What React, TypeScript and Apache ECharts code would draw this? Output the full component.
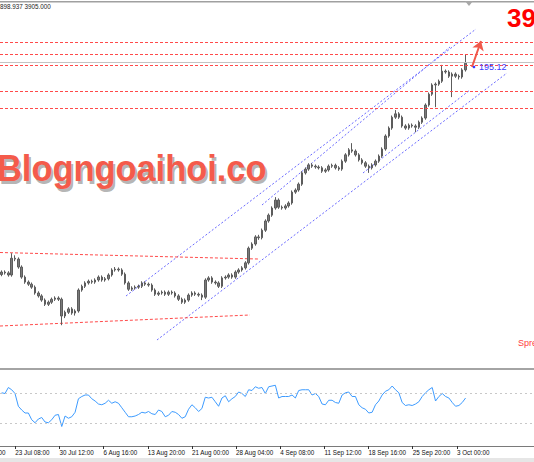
import React, { useEffect, useRef } from "react";
import * as echarts from "echarts";

// ---------- data ----------
const SLOTS = 160; // bar slots across the visible width
const firstOpen = 3372;
const closes = [
  3378, 3376, 3371, 3411, 3409, 3390, 3366, 3354, 3349, 3342,
  3328, 3321, 3311, 3301, 3306, 3313, 3316, 3313, 3273, 3282,
  3290, 3280, 3285, 3335, 3344, 3352, 3356, 3354, 3359, 3366,
  3359, 3362, 3371, 3383, 3385, 3383, 3373, 3352, 3337, 3340,
  3342, 3344, 3352, 3349, 3347, 3335, 3325, 3328, 3330, 3325,
  3330, 3328, 3321, 3313, 3306, 3311, 3323, 3328, 3325, 3323,
  3318, 3359, 3364, 3354, 3352, 3344, 3364, 3366, 3371, 3366,
  3378, 3383, 3388, 3400, 3435, 3445, 3462, 3460, 3478, 3500,
  3514, 3531, 3550, 3533, 3531, 3536, 3543, 3569, 3574, 3588,
  3615, 3624, 3634, 3631, 3629, 3627, 3619, 3622, 3631, 3633,
  3627, 3624, 3643, 3658, 3670, 3667, 3658, 3646, 3639, 3631,
  3627, 3634, 3643, 3655, 3672, 3703, 3722, 3748, 3756, 3748,
  3727, 3722, 3729, 3727, 3724, 3736, 3746, 3777, 3803, 3825,
  3827, 3834, 3858, 3856, 3846, 3851, 3846, 3844, 3861, 3877,
];
const highs = [
  3382, 3382, 3380, 3423, 3418, 3413, 3394, 3370, 3358, 3353,
  3346, 3332, 3325, 3315, 3310, 3317, 3320, 3320, 3317, 3286,
  3294, 3294, 3289, 3339, 3348, 3356, 3360, 3360, 3363, 3370,
  3370, 3366, 3375, 3387, 3390, 3389, 3387, 3377, 3356, 3344,
  3346, 3348, 3356, 3356, 3353, 3351, 3339, 3332, 3334, 3334,
  3334, 3334, 3332, 3325, 3317, 3315, 3327, 3332, 3332, 3329,
  3327, 3363, 3368, 3368, 3358, 3356, 3368, 3370, 3375, 3375,
  3382, 3387, 3392, 3404, 3439, 3449, 3466, 3467, 3482, 3504,
  3518, 3535, 3557, 3554, 3537, 3540, 3547, 3573, 3578, 3592,
  3619, 3628, 3638, 3638, 3635, 3633, 3631, 3626, 3635, 3637,
  3637, 3631, 3647, 3662, 3674, 3686, 3671, 3662, 3650, 3643,
  3635, 3638, 3647, 3659, 3676, 3707, 3726, 3752, 3765, 3760,
  3752, 3731, 3733, 3733, 3731, 3740, 3750, 3781, 3807, 3829,
  3831, 3838, 3873, 3862, 3860, 3855, 3855, 3850, 3865, 3897,
];
const lows = [
  3368, 3372, 3367, 3367, 3404, 3386, 3362, 3350, 3345, 3338,
  3324, 3317, 3307, 3297, 3297, 3302, 3309, 3309, 3251, 3268,
  3278, 3276, 3274, 3281, 3331, 3340, 3348, 3350, 3350, 3355,
  3355, 3355, 3358, 3367, 3379, 3379, 3369, 3348, 3333, 3333,
  3336, 3338, 3340, 3345, 3343, 3331, 3321, 3321, 3324, 3321,
  3321, 3324, 3317, 3309, 3302, 3302, 3307, 3319, 3321, 3319,
  3311, 3314, 3355, 3350, 3348, 3340, 3340, 3360, 3362, 3362,
  3362, 3374, 3379, 3384, 3396, 3431, 3441, 3455, 3456, 3474,
  3496, 3510, 3527, 3529, 3527, 3527, 3532, 3539, 3565, 3570,
  3584, 3611, 3620, 3627, 3625, 3623, 3615, 3615, 3618, 3627,
  3623, 3620, 3620, 3639, 3654, 3663, 3654, 3642, 3635, 3627,
  3615, 3623, 3630, 3639, 3651, 3668, 3699, 3718, 3744, 3744,
  3723, 3718, 3718, 3723, 3712, 3720, 3732, 3742, 3773, 3799,
  3772, 3823, 3830, 3852, 3842, 3796, 3842, 3838, 3840, 3857,
];
const rsiValues = [
  71, 70, 78, 75, 70, 53, 48, 44, 44, 35,
  31, 36, 38, 32, 31, 35, 41, 42, 26, 40,
  37, 39, 45, 63, 66, 68, 68, 63, 60, 56,
  55, 57, 61, 57, 59, 57, 51, 45, 39, 39,
  40, 42, 45, 44, 46, 43, 42, 48, 46, 39,
  41, 46, 45, 42, 37, 39, 49, 55, 51, 46,
  50, 65, 64, 65, 59, 53, 64, 67, 59, 63,
  66, 72, 70, 66, 75, 74, 79, 77, 78, 70,
  79, 80, 81, 64, 66, 66, 66, 68, 64, 74,
  75, 75, 75, 68, 70, 66, 56, 55, 61, 61,
  58, 57, 68, 71, 72, 66, 66, 55, 51, 49,
  44, 45, 55, 60, 68, 73, 75, 80, 75, 71,
  58, 54, 55, 54, 56, 59, 66, 71, 75, 78,
  60, 66, 70, 66, 64, 58, 53, 54, 58, 64,
];
const rsiLevels = [70, 30];

const tickPositions = [4.08, 17.33, 30.54, 43.78, 57.0, 70.24, 83.48, 96.7, 109.94, 123.16, 136.4];
const tickLabels = [
  "23 Jul 08:00", "30 Jul 12:00", "6 Aug 16:00", "13 Aug 20:00", "21 Aug 00:00",
  "28 Aug 04:00", "4 Sep 08:00", "11 Sep 12:00", "18 Sep 16:00", "25 Sep 20:00", "3 Oct 00:00",
];
const earlierTickPosition = -9.16;
const earlierTickLabel = "16 Jul 04:00";

const horizontalLevels = [3926, 3899, 3872, 3811, 3769];
const bidPrice = 3880;

const channelA = [[37.25, 3320.8], [142.12, 3958.7]];
const channelB = [[78.0, 3538.2], [134.33, 3915.7]];
const channelC = [[108.26, 3614.7], [140.32, 3813.0]];
const channelD = [[46.54, 3215.7], [151.41, 3853.6]];
const rangeUpper = [[-0.5, 3424.7], [76.8, 3409.2]];
const rangeLower = [[-0.5, 3249.1], [74.4, 3275.4]];
const arrowLine = [[140.92, 3867.9], [143.62, 3930.0]];

const headerText = "898.937 3905.000";
const bigPriceText = "39";
const channelLabel = "195.12";
const spreadText = "Spre";
const watermark = "Blogngoaihoi.co";

// ---------- component ----------
export default function App() {
  const ref = useRef<HTMLDivElement>(null);

  useEffect(() => {
    if (!ref.current) return;
    const chart = echarts.init(ref.current, null, { renderer: "svg" });

    const slots = Array.from({ length: SLOTS }, (_, i) => String(i));
    const candleData = closes.map((c, i) => [
      i === 0 ? firstOpen : closes[i - 1],
      c,
      lows[i],
      highs[i],
    ]);

    const blueDash = { type: [2, 2] as any, color: "#6a6aff", width: 1 };
    const redDash = { type: [3, 2] as any, color: "#ff4a4a", width: 1 };

    const drawLine = (pts: number[][], style: any) => ({
      type: "line",
      xAxisIndex: 1,
      yAxisIndex: 0,
      data: pts,
      symbol: "none",
      silent: true,
      lineStyle: style,
      z: 3,
    });

    const labelFor = (v: number) => {
      const k = tickPositions.findIndex((p) => Math.abs(p - v) < 0.01);
      return k >= 0 ? tickLabels[k] : "";
    };

    const axisFont = "'Liberation Sans', Arial, sans-serif";

    const option: any = {
      animation: false,
      backgroundColor: "#ffffff",
      grid: [
        { left: 0, right: 0, top: 0, height: 370 },
        { left: 0, right: 0, top: 371, height: 75 },
      ],
      xAxis: [
        { type: "category", gridIndex: 0, data: slots, boundaryGap: true, show: false },
        { type: "value", gridIndex: 0, min: -0.5, max: SLOTS - 0.5, show: false },
        {
          type: "value",
          gridIndex: 1,
          min: -0.5,
          max: SLOTS - 0.5,
          axisLine: { show: true, onZero: false, lineStyle: { color: "#7a7a7a", width: 1 } },
          splitLine: { show: false },
          axisTick: {
            show: true,
            customValues: tickPositions,
            length: 3,
            lineStyle: { color: "#333333", width: 1 },
          },
          axisLabel: {
            customValues: tickPositions,
            formatter: labelFor,
            align: "left",
            fontSize: 6.3,
            color: "#111111",
            margin: 3,
            fontFamily: axisFont,
          },
        },
      ],
      yAxis: [
        { type: "value", gridIndex: 0, min: 3144, max: 4028, show: false },
        { type: "value", gridIndex: 1, min: 0, max: 100, show: false },
      ],
      series: [
        {
          type: "line",
          xAxisIndex: 1,
          yAxisIndex: 0,
          data: [],
          silent: true,
          markLine: {
            silent: true,
            symbol: "none",
            label: { show: false },
            data: [
              { yAxis: bidPrice, lineStyle: { type: "solid", color: "#c4c4c4", width: 1 } },
              ...horizontalLevels.map((v) => ({ yAxis: v, lineStyle: redDash })),
            ],
          },
        },
        {
          type: "candlestick",
          xAxisIndex: 0,
          yAxisIndex: 0,
          data: candleData,
          barWidth: 2,
          silent: true,
          z: 4,
          itemStyle: {
            color: "#7a7a7a",
            color0: "#7a7a7a",
            borderColor: "#5c5c5c",
            borderColor0: "#5c5c5c",
            borderWidth: 1,
          },
        },
        drawLine(channelA, blueDash),
        drawLine(channelB, blueDash),
        drawLine(channelC, blueDash),
        drawLine(channelD, blueDash),
        drawLine(rangeUpper, redDash),
        drawLine(rangeLower, redDash),
        {
          type: "lines",
          coordinateSystem: "cartesian2d",
          xAxisIndex: 1,
          yAxisIndex: 0,
          silent: true,
          z: 6,
          symbol: ["none", "arrow"],
          symbolSize: 9,
          lineStyle: { color: "#f0584a", width: 2, opacity: 1 },
          data: [{ coords: arrowLine }],
        },
        {
          type: "line",
          xAxisIndex: 2,
          yAxisIndex: 1,
          data: rsiValues.map((v, i) => [i, v]),
          symbol: "none",
          silent: true,
          lineStyle: { color: "#3d9bff", width: 1 },
          markLine: {
            silent: true,
            symbol: "none",
            label: { show: false },
            lineStyle: { type: [2, 3], color: "#c8c8c8", width: 1 },
            data: rsiLevels.map((v) => ({ yAxis: v })),
          },
        },
      ],
    };

    chart.setOption(option);

    const prevX = chart.convertToPixel({ xAxisIndex: 2 } as any, earlierTickPosition) as number;

    const graphics: any[] = [
      { type: "rect", z: 50, shape: { x: 0, y: 1, width: 534, height: 1.5 }, style: { fill: "#a0a0a0" } },
      { type: "polygon", z: 50, shape: { points: [[465, 1], [473, 1], [469, 6]] }, style: { fill: "#a8a8a8" } },
      { type: "rect", z: 50, shape: { x: 0, y: 368, width: 534, height: 2 }, style: { fill: "#a4a4a4" } },
      { type: "rect", z: 50, shape: { x: 0, y: 458, width: 534, height: 4 }, style: { fill: "#e6e6e6" } },
      {
        type: "text", z: 50, x: 0, y: 6.5,
        style: { text: headerText, fontSize: 6.3, fontFamily: axisFont, fill: "#222222", verticalAlign: "middle" },
      },
      {
        type: "text", z: 50, x: 507, y: 18,
        style: { text: bigPriceText, fontSize: 26, fontWeight: "bold", fontFamily: "'Liberation Sans', Arial, sans-serif", fill: "#ff0000", verticalAlign: "middle" },
      },
      {
        type: "text", z: 50, x: 479, y: 66.5,
        style: { text: channelLabel, fontSize: 9, fontFamily: axisFont, fill: "#3a3aff", verticalAlign: "middle" },
      },
      { type: "circle", z: 50, shape: { cx: 474, cy: 67, r: 1.3 }, style: { fill: "#3a3aff" } },
      {
        type: "text", z: 50, x: 518, y: 342.5,
        style: { text: spreadText, fontSize: 9, fontFamily: axisFont, fill: "#ff4040", verticalAlign: "middle" },
      },
      {
        type: "text", z: 60, x: -1, y: 172, scaleX: 0.93,
        style: { text: watermark, fontSize: 37, fontWeight: "bold", fontFamily: "'Liberation Sans', Arial, sans-serif", fill: "rgba(90,90,90,0.45)", verticalAlign: "middle" },
      },
      {
        type: "text", z: 61, x: -3, y: 169, scaleX: 0.93,
        style: { text: watermark, fontSize: 37, fontWeight: "bold", fontFamily: "'Liberation Sans', Arial, sans-serif", fill: "#f45b4b", verticalAlign: "middle" },
      },
      {
        type: "line", z: 50, shape: { x1: prevX, y1: 446, x2: prevX, y2: 449 }, style: { stroke: "#333333", lineWidth: 1 },
      },
      {
        type: "text", z: 50, x: prevX, y: 449,
        style: { text: earlierTickLabel, fontSize: 6.3, fontFamily: axisFont, fill: "#111111", verticalAlign: "top" },
      },
    ];

    chart.setOption({ graphic: graphics });

    return () => chart.dispose();
  }, []);

  return (
    <div
      ref={ref}
      style={{ position: "fixed", left: 0, top: 0, width: 534, height: 462, background: "#ffffff" }}
    />
  );
}
